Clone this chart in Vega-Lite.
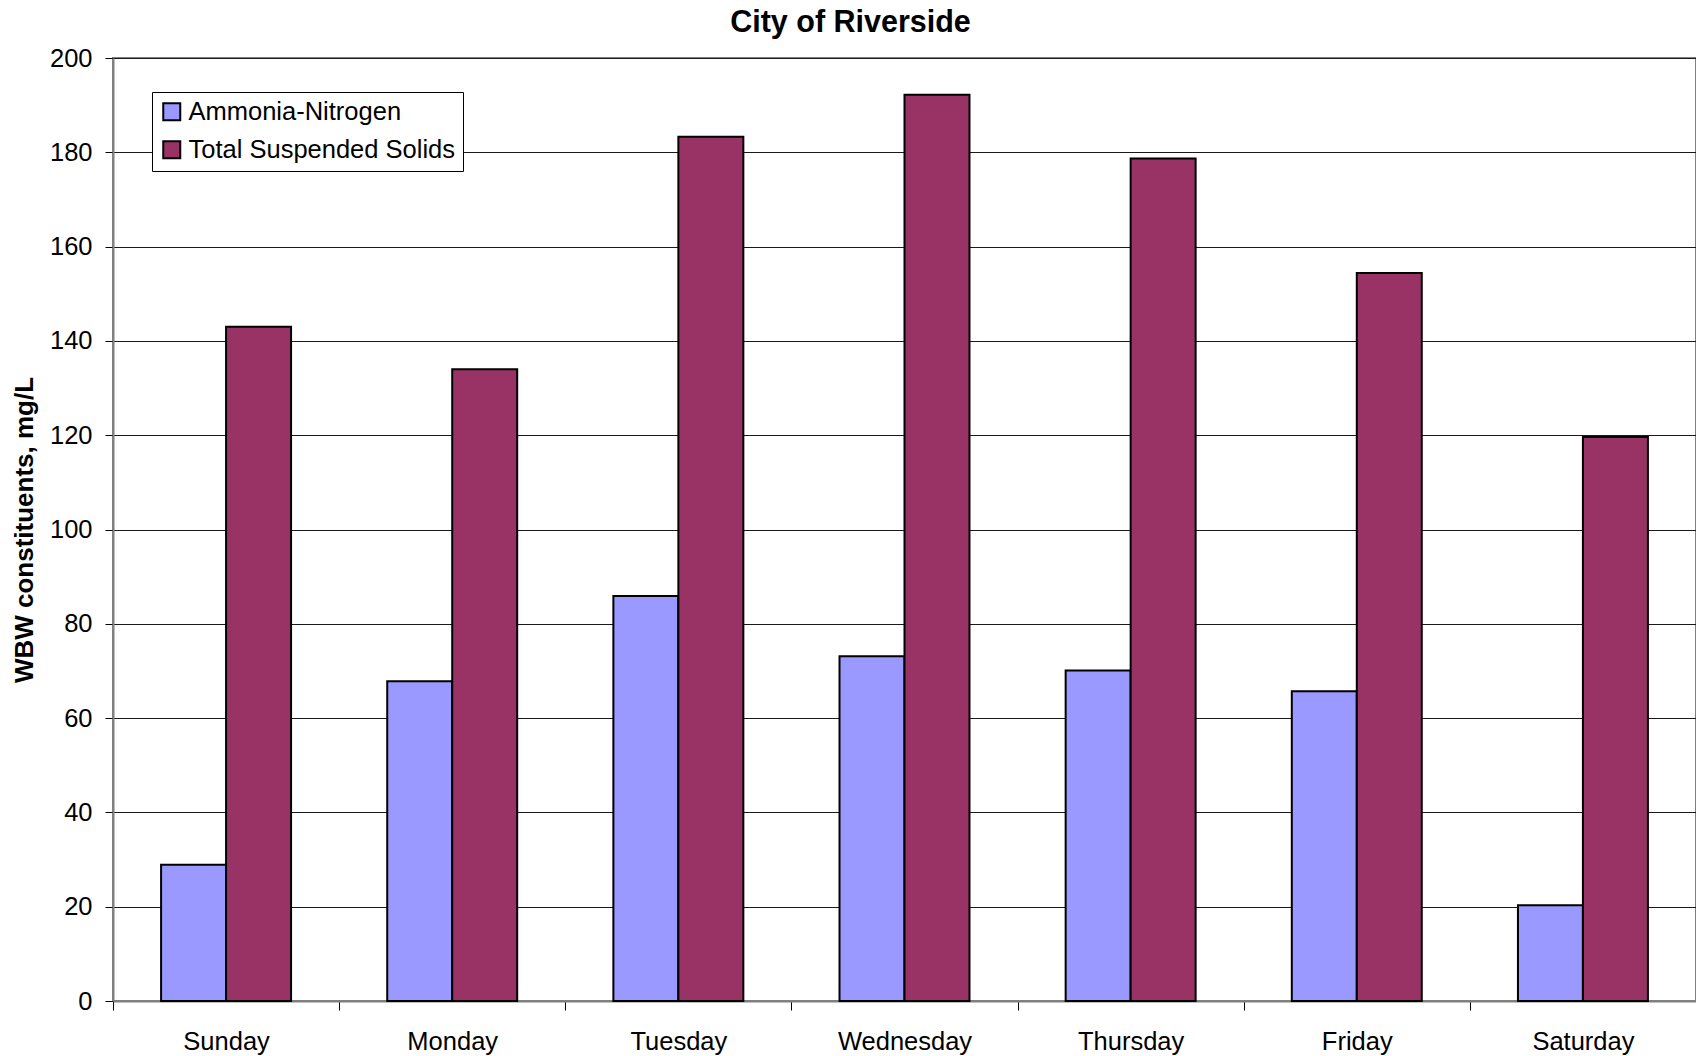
{
  "$schema": "https://vega.github.io/schema/vega-lite/v6.json",
  "autosize": {"type": "none"},
  "padding": {"left": 113, "top": 58, "right": 0, "bottom": 55},
  "width": 1583,
  "height": 943,
  "background": "white",
  "title": {
    "text": "City of Riverside",
    "font": "Liberation Sans",
    "fontSize": 30.5,
    "fontWeight": "bold",
    "color": "black",
    "anchor": "middle",
    "frame": "group",
    "dx": -54,
    "baseline": "alphabetic",
    "offset": 0,
    "dy": 16
  },
  "config": {
    "view": {"stroke": "#808080", "strokeWidth": 2},
    "font": "Liberation Sans"
  },
  "data": {
    "values": [
      {"day": "Sunday", "series": "Ammonia-Nitrogen", "value": 28.9},
      {"day": "Sunday", "series": "Total Suspended Solids", "value": 143.0},
      {"day": "Monday", "series": "Ammonia-Nitrogen", "value": 67.8},
      {"day": "Monday", "series": "Total Suspended Solids", "value": 134.0},
      {"day": "Tuesday", "series": "Ammonia-Nitrogen", "value": 85.9},
      {"day": "Tuesday", "series": "Total Suspended Solids", "value": 183.3},
      {"day": "Wednesday", "series": "Ammonia-Nitrogen", "value": 73.1},
      {"day": "Wednesday", "series": "Total Suspended Solids", "value": 192.2},
      {"day": "Thursday", "series": "Ammonia-Nitrogen", "value": 70.1},
      {"day": "Thursday", "series": "Total Suspended Solids", "value": 178.7},
      {"day": "Friday", "series": "Ammonia-Nitrogen", "value": 65.7},
      {"day": "Friday", "series": "Total Suspended Solids", "value": 154.4},
      {"day": "Saturday", "series": "Ammonia-Nitrogen", "value": 20.3},
      {"day": "Saturday", "series": "Total Suspended Solids", "value": 119.6}
    ]
  },
  "mark": {"type": "bar", "stroke": "black", "strokeWidth": 2},
  "encoding": {
    "x": {
      "field": "day",
      "type": "nominal",
      "sort": ["Sunday", "Monday", "Tuesday", "Wednesday", "Thursday", "Friday", "Saturday"],
      "scale": {"paddingInner": 0, "paddingOuter": 0},
      "axis": {
        "title": null,
        "labelAngle": 0,
        "labelFont": "Liberation Sans",
        "labelFontSize": 25.5,
        "labelColor": "black",
        "labelPadding": 19,
        "tickBand": "extent",
        "tickSize": 9,
        "tickColor": "black",
        "tickWidth": 1,
        "domainColor": "#808080",
        "domainWidth": 2
      }
    },
    "xOffset": {
      "field": "series",
      "type": "nominal",
      "sort": ["Ammonia-Nitrogen", "Total Suspended Solids"],
      "scale": {"paddingInner": 0, "paddingOuter": 0.74}
    },
    "y": {
      "field": "value",
      "type": "quantitative",
      "scale": {"domain": [0, 200], "nice": false},
      "axis": {
        "title": "WBW constituents, mg/L",
        "titleFont": "Liberation Sans",
        "titleFontSize": 26,
        "titleFontWeight": "bold",
        "titleColor": "black",
        "titlePadding": 12,
        "values": [0, 20, 40, 60, 80, 100, 120, 140, 160, 180, 200],
        "labelFont": "Liberation Sans",
        "labelFontSize": 25.5,
        "labelColor": "black",
        "labelPadding": 13,
        "tickSize": 8,
        "tickColor": "black",
        "tickWidth": 1,
        "domainColor": "#808080",
        "domainWidth": 2,
        "grid": true,
        "gridColor": "#1a1a1a",
        "gridWidth": 1
      }
    },
    "color": {
      "field": "series",
      "type": "nominal",
      "scale": {
        "domain": ["Ammonia-Nitrogen", "Total Suspended Solids"],
        "range": ["#9999FF", "#993366"]
      },
      "legend": {
        "title": null,
        "orient": "none",
        "legendX": 39,
        "legendY": 34,
        "direction": "vertical",
        "fillColor": "white",
        "strokeColor": "black",
        "padding": 7,
        "rowPadding": 11,
        "symbolType": "square",
        "symbolSize": 289,
        "symbolStrokeColor": "black",
        "symbolStrokeWidth": 2,
        "labelFont": "Liberation Sans",
        "labelFontSize": 25.5,
        "labelColor": "black",
        "labelOffset": 4,
        "labelLimit": 500
      }
    }
  }
}
